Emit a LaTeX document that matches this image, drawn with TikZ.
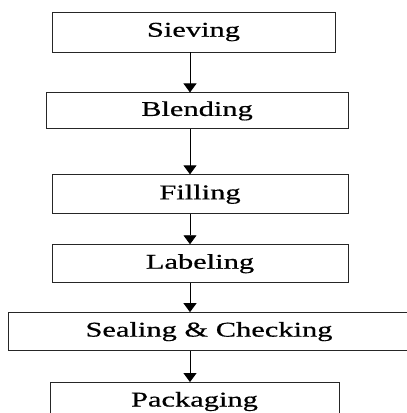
\documentclass[tikz,border=0pt]{standalone}
\usepackage{fontspec}
\setmainfont[FakeStretch=1.45,FakeBold=0.6]{Liberation Serif}
\usepackage{tikz}
\usetikzlibrary{arrows.meta,positioning}

\begin{document}
\begin{tikzpicture}[>={Triangle[width=13pt,length=9pt]}, every node/.style={font=\fontsize{21}{25}\selectfont}]
\tikzstyle{stepbox}=[draw=black!85, line width=0.9pt, minimum height=38pt, inner sep=0pt, align=center]
\useasboundingbox (0,0) rectangle (407pt,-413pt);
\coordinate (axis) at (190pt,0);
\node[stepbox, minimum width=283pt, minimum height=40pt] (sieve) at (193.5pt,-32pt) {Sieving};
\node[stepbox, minimum width=302pt, minimum height=36pt, below=40pt of sieve, xshift=3.5pt] (blend) {Blending};
\node[stepbox, minimum width=296pt, minimum height=39pt, below=45pt of blend, xshift=3pt] (fill) {Filling};
\node[stepbox, minimum width=296pt, below=30pt of fill] (label) {Labeling};
\node[stepbox, minimum width=402pt, below=29pt of label, xshift=9pt] (seal) {Sealing \& Checking};
\node[stepbox, minimum width=289pt, below=31pt of seal, xshift=-14.5pt] (pack) {Packaging};
\draw[->, line width=0.9pt] (sieve.south -| axis) -- (blend.north -| axis);
\draw[->, line width=0.9pt] (blend.south -| axis) -- (fill.north -| axis);
\draw[->, line width=0.9pt] (fill.south -| axis) -- (label.north -| axis);
\draw[->, line width=0.9pt] (label.south -| axis) -- (seal.north -| axis);
\draw[->, line width=0.9pt] (seal.south -| axis) -- (pack.north -| axis);
\end{tikzpicture}
\end{document}
